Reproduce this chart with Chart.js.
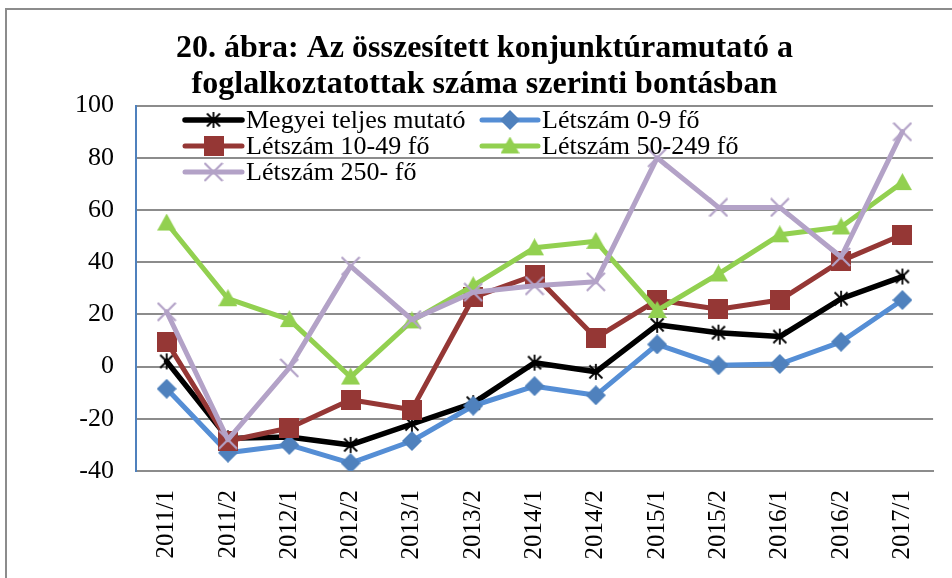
<!DOCTYPE html>
<html>
<head>
<meta charset="utf-8">
<script src="https://cdn.jsdelivr.net/npm/chart.js@4/dist/chart.umd.min.js"></script>
<style>
html,body{margin:0;padding:0;background:#fff;overflow:hidden;}
canvas{display:block;}
</style>
</head>
<body>
<canvas id="c" width="952" height="578"></canvas>
<script>
const titleLines = ["20. ábra: Az összesített konjunktúramutató a", "foglalkoztatottak száma szerinti bontásban"];
const categories = ["2011/1","2011/2","2012/1","2012/2","2013/1","2013/2","2014/1","2014/2","2015/1","2015/2","2016/1","2016/2","2017/1"];
const seriesNames = ["Megyei teljes mutató","Létszám 0-9 fő","Létszám 10-49 fő","Létszám 50-249 fő","Létszám 250- fő"];
const megyei   = [2, -27.5, -27, -30, -22, -14, 1.5, -2, 16, 13, 11.5, 26, 34.5];
const l0_9     = [-8.5, -33, -30, -37, -28.5, -15, -7.5, -11, 8.5, 0.5, 1, 9.5, 25.5];
const l10_49   = [9.5, -28.5, -23.5, -12.7, -16.5, 26.5, 35, 11, 25.5, 22, 25.5, 40.5, 50.5];
const l50_249  = [55, 26, 18, -4, 17.5, 31, 45.5, 48, 21.5, 35.5, 50.5, 53.5, 70.5];
const l250     = [21, -28, -0.5, 38.5, 18, 28.5, 31, 32.5, 80, 61, 61, 42, 90];
const yTicks = {min: -40, max: 100, step: 20};

const SERIF = '"Liberation Serif", "Times New Roman", serif';

function marker(type, size, color) {
  const c = document.createElement('canvas');
  c.width = size; c.height = size;
  const g = c.getContext('2d');
  const h = size / 2;
  g.fillStyle = color; g.strokeStyle = color;
  if (type === 'star') {
    g.lineWidth = 1.8;
    g.beginPath();
    g.moveTo(h, 1); g.lineTo(h, size - 1);
    g.moveTo(2.5, 2.5); g.lineTo(size - 2.5, size - 2.5);
    g.moveTo(size - 2.5, 2.5); g.lineTo(2.5, size - 2.5);
    g.stroke();
  } else if (type === 'square') {
    g.fillRect(0, 0, size, size);
  } else if (type === 'diamond') {
    g.beginPath();
    g.moveTo(h, 0); g.lineTo(size, h); g.lineTo(h, size); g.lineTo(0, h);
    g.closePath(); g.fill();
  } else if (type === 'triangle') {
    g.beginPath();
    g.moveTo(h, 0); g.lineTo(size, size - 2); g.lineTo(0, size - 2);
    g.closePath(); g.fill();
  } else if (type === 'x') {
    g.lineWidth = 2.2;
    g.beginPath();
    g.moveTo(1, 1); g.lineTo(size - 1, size - 1);
    g.moveTo(size - 1, 1); g.lineTo(1, size - 1);
    g.stroke();
  }
  return c;
}

const styles = [
  {color: '#000000', width: 5.5, mk: marker('star', 18, '#000000')},
  {color: '#558ED5', width: 5,   mk: marker('diamond', 20, '#4F81BD')},
  {color: '#953735', width: 5,   mk: marker('square', 20, '#953735')},
  {color: '#92D050', width: 5,   mk: marker('triangle', 19, '#92D050')},
  {color: '#B3A2C7', width: 5,   mk: marker('x', 20, '#B3A2C7')}
];
const seriesData = [megyei, l0_9, l10_49, l50_249, l250];

const datasets = seriesNames.map((name, i) => ({
  label: name,
  data: seriesData[i],
  borderColor: styles[i].color,
  backgroundColor: styles[i].color,
  borderWidth: styles[i].width,
  pointStyle: styles[i].mk,
  pointRadius: 10,
  pointHoverRadius: 10,
  tension: 0,
  borderJoinStyle: 'round',
  borderCapStyle: 'round',
  order: 5 - i
}));

const frame = {
  id: 'frame',
  beforeDraw(chart) {
    const ctx = chart.ctx;
    ctx.save();
    ctx.fillStyle = '#fff';
    ctx.fillRect(0, 0, chart.width, chart.height);
    ctx.strokeStyle = '#8c8c8c';
    ctx.lineWidth = 2;
    ctx.strokeRect(6, 9, chart.width + 20, chart.height + 20);
    ctx.restore();
  }
};

const legendPos = [
  {x1: 185, x2: 242, tx: 246, y: 120},
  {x1: 482, x2: 538, tx: 542, y: 120},
  {x1: 185, x2: 242, tx: 246, y: 146},
  {x1: 482, x2: 538, tx: 542, y: 146},
  {x1: 185, x2: 242, tx: 246, y: 172}
];
const customLegend = {
  id: 'customLegend',
  afterDatasetsDraw(chart) {
    const ctx = chart.ctx;
    ctx.save();
    chart.data.datasets.forEach((ds, i) => {
      const p = legendPos[i];
      ctx.strokeStyle = ds.borderColor;
      ctx.lineWidth = ds.borderWidth;
      ctx.lineCap = 'round';
      ctx.beginPath(); ctx.moveTo(p.x1, p.y); ctx.lineTo(p.x2, p.y); ctx.stroke();
      const m = ds.pointStyle;
      ctx.drawImage(m, (p.x1 + p.x2) / 2 - m.width / 2, p.y - m.height / 2);
      ctx.fillStyle = '#000';
      ctx.font = '26px ' + SERIF;
      ctx.textBaseline = 'middle';
      ctx.textAlign = 'left';
      ctx.fillText(ds.label, p.tx, p.y + 1);
    });
    ctx.restore();
  }
};

new Chart(document.getElementById('c'), {
  type: 'line',
  data: {labels: categories, datasets},
  plugins: [frame, customLegend],
  options: {
    responsive: false,
    animation: false,
    layout: {padding: {left: 28, right: 11, top: 0, bottom: 0}},
    plugins: {
      legend: {display: false},
      tooltip: {enabled: false},
      title: {
        display: true,
        text: titleLines,
        color: '#000',
        font: {family: SERIF, size: 32, weight: 'bold', lineHeight: 1.15},
        padding: {top: 30, bottom: 2}
      }
    },
    scales: {
      x: {
        offset: true,
        grid: {display: false, drawTicks: false, offset: true},
        border: {display: true, color: '#8c8c8c', width: 2},
        ticks: {
          color: '#000',
          font: {family: SERIF, size: 25},
          minRotation: 90, maxRotation: 90, padding: 19, autoSkip: false
        },
        afterFit(s) { s.height = 107; }
      },
      y: {
        min: yTicks.min, max: yTicks.max,
        grid: {color: '#8c8c8c', lineWidth: 2, drawTicks: false},
        border: {display: true, color: '#4F81BD', width: 2},
        ticks: {
          stepSize: yTicks.step,
          color: '#000',
          font: {family: SERIF, size: 26},
          padding: 22
        },
        afterFit(s) { s.width = 108; }
      }
    }
  }
});
</script>
</body>
</html>
